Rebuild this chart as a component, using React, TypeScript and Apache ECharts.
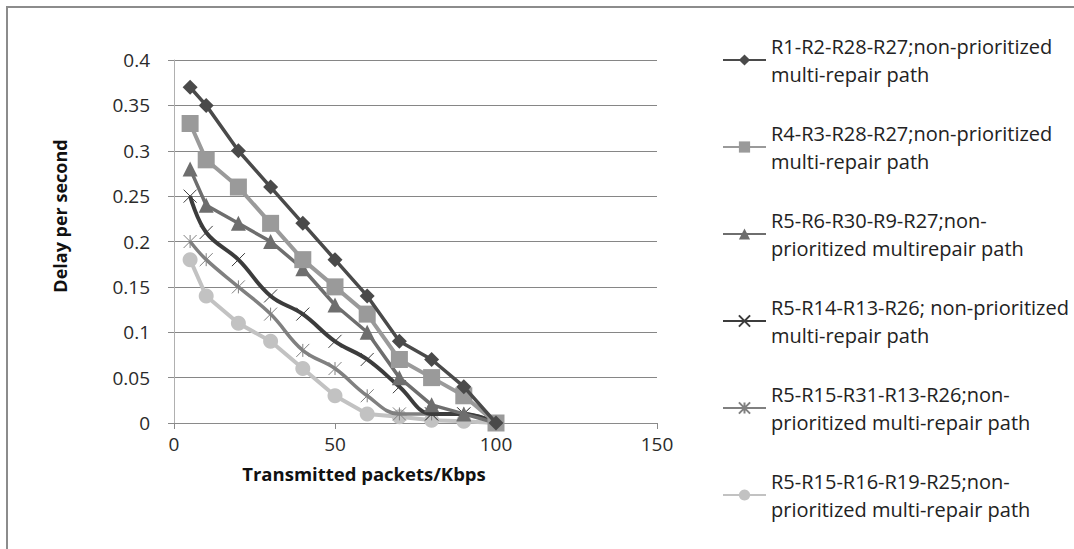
import React, { useEffect, useRef } from "react";
import * as echarts from "echarts";

const xValues = [5, 10, 20, 30, 40, 50, 60, 70, 80, 90, 100];
const s1 = [0.37, 0.35, 0.3, 0.26, 0.22, 0.18, 0.14, 0.09, 0.07, 0.04, 0];
const s2 = [0.33, 0.29, 0.26, 0.22, 0.18, 0.15, 0.12, 0.07, 0.05, 0.03, 0];
const s3 = [0.28, 0.24, 0.22, 0.2, 0.17, 0.13, 0.1, 0.05, 0.02, 0.01, 0];
const s4 = [0.25, 0.21, 0.18, 0.14, 0.12, 0.09, 0.07, 0.04, 0.01, 0.01, 0];
const s5 = [0.2, 0.18, 0.15, 0.12, 0.08, 0.06, 0.03, 0.01, 0.01, 0.01, 0];
const s6 = [0.18, 0.14, 0.11, 0.09, 0.06, 0.03, 0.01, 0.007, 0.003, 0.002, 0];

const seriesNames = [
  "R1-R2-R28-R27;non-prioritized multi-repair path",
  "R4-R3-R28-R27;non-prioritized multi-repair path",
  "R5-R6-R30-R9-R27;non-prioritized multirepair path",
  "R5-R14-R13-R26; non-prioritized multi-repair path",
  "R5-R15-R31-R13-R26;non-prioritized multi-repair path",
  "R5-R15-R16-R19-R25;non-prioritized multi-repair path",
];
const legendLines = [
  ["R1-R2-R28-R27;non-prioritized", "multi-repair path"],
  ["R4-R3-R28-R27;non-prioritized", "multi-repair path"],
  ["R5-R6-R30-R9-R27;non-", "prioritized multirepair path"],
  ["R5-R14-R13-R26; non-prioritized", "multi-repair path"],
  ["R5-R15-R31-R13-R26;non-", "prioritized multi-repair path"],
  ["R5-R15-R16-R19-R25;non-", "prioritized multi-repair path"],
];
const xTitle = "Transmitted packets/Kbps";
const yTitle = "Delay per second";

const FONT = "Open Sans";

export default function App() {
  const ref = useRef<HTMLDivElement>(null);
  useEffect(() => {
    if (!ref.current) return;
    const chart = echarts.init(ref.current, null, { renderer: "svg" });
    const pair = (ys: number[]) => xValues.map((x, i) => [x, ys[i]]);
    const xSym = "path://M0,0 L10,10 M0,10 L10,0";
    const starSym = "path://M0,0 L10,10 M0,10 L10,0 M5,0 L5,10";
    const cfg = [
      { data: s1, color: "#4a4a4a", symbol: "diamond", size: 15, width: 3.5, smooth: false },
      { data: s2, color: "#9a9a9a", symbol: "rect", size: 17, width: 4, smooth: false },
      { data: s3, color: "#6e6e6e", symbol: "triangle", size: 15, width: 3.5, smooth: false },
      { data: s4, color: "#3c3c3c", symbol: xSym, size: 13, width: 4, smooth: 0.4, thin: true },
      { data: s5, color: "#808080", symbol: starSym, size: 13, width: 3.5, smooth: 0.4, thin: true },
      { data: s6, color: "#c2c2c2", symbol: "circle", size: 15, width: 4, smooth: false },
    ];
    const series = cfg.map((c, i) => ({
      type: "line",
      name: seriesNames[i],
      data: pair(c.data),
      smooth: c.smooth,
      symbol: c.symbol,
      symbolSize: c.size,
      showSymbol: true,
      lineStyle: { color: c.color, width: c.width },
      itemStyle: c.thin
        ? { color: "none", borderColor: c.color, borderWidth: 1 }
        : { color: c.color, borderWidth: 0 },
      z: 10 - i,
    }));
    chart.setOption({
      animation: false,
      backgroundColor: "#ffffff",
      grid: { left: 174, right: 417, top: 60, bottom: 126, containLabel: false },
      xAxis: {
        type: "value",
        min: 0,
        max: 150,
        interval: 50,
        axisLine: { show: true, lineStyle: { color: "#8a8a8a", width: 1 } },
        axisTick: { show: true, length: 6, lineStyle: { color: "#8a8a8a" } },
        splitLine: { show: false },
        axisLabel: { color: "#2a2a2a", fontFamily: FONT, fontSize: 19, margin: 11 },
      },
      yAxis: {
        type: "value",
        min: 0,
        max: 0.4,
        interval: 0.05,
        axisLine: { show: true, lineStyle: { color: "#b0b0b0", width: 1 } },
        axisTick: { show: true, length: 6, lineStyle: { color: "#8a8a8a" } },
        splitLine: { show: true, lineStyle: { color: "#868686", width: 1 } },
        axisLabel: {
          color: "#2a2a2a",
          fontFamily: FONT,
          fontSize: 19,
          margin: 24,
          formatter: (v: number) => String(Math.round(v * 100) / 100),
        },
      },
      legend: {
        orient: "vertical",
        left: 722,
        top: 18,
        padding: 0,
        itemGap: 3,
        itemWidth: 43,
        itemHeight: 14,
        data: seriesNames,
        formatter: (name: string) => legendLines[seriesNames.indexOf(name)].join("\n"),
        textStyle: {
          fontFamily: FONT,
          fontSize: 20,
          color: "#222",
          lineHeight: 28,
          padding: [28, 0, 0, 0],
        },
      },
      graphic: [
        {
          type: "rect",
          shape: { x: 7, y: 7, width: 1300, height: 800 },
          style: { fill: "none", stroke: "#8c8c8c", lineWidth: 2 },
          silent: true,
        },
        {
          type: "text",
          x: 364,
          y: 473,
          style: {
            text: xTitle,
            fontFamily: FONT,
            fontWeight: "bold",
            fontSize: 18.5,
            fill: "#111",
            align: "center",
            verticalAlign: "middle",
          },
        },
        {
          type: "text",
          x: 60,
          y: 216,
          rotation: Math.PI / 2,
          style: {
            text: yTitle,
            fontFamily: FONT,
            fontWeight: "bold",
            fontSize: 18,
            fill: "#111",
            align: "center",
            verticalAlign: "middle",
          },
        },
      ],
      series,
    });
    return () => chart.dispose();
  }, []);
  return (
    <div
      ref={ref}
      style={{ position: "fixed", left: 0, top: 0, width: 1074, height: 549 }}
    />
  );
}
